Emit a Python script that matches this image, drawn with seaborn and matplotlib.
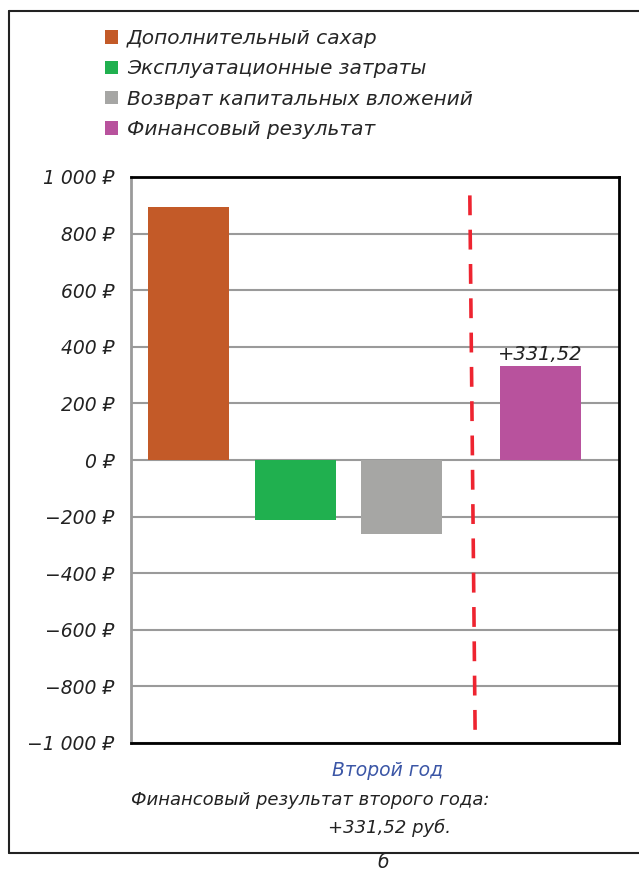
import matplotlib
matplotlib.use("Agg")
import matplotlib.pyplot as plt
from matplotlib.patches import Patch
from matplotlib.lines import Line2D
from matplotlib.ticker import FixedLocator, FuncFormatter
import seaborn as sns
import pandas as pd

# Second-year breakdown, rubles
categories = ["Дополнительный сахар", "Эксплуатационные затраты",
              "Возврат капитальных вложений", "Финансовый результат"]
values = [893.0, -212.0, -261.0, 331.52]
positions = [0.0, 1.0, 2.0, 3.3]
colors = ["#c35a28", "#20b04f", "#a6a6a4", "#b8529d"]
divider_x = (2.64, 2.69)
yticks = [-1000, -800, -600, -400, -200, 0, 200, 400, 600, 800, 1000]
group_label = "Второй год"
summary_line1 = "Финансовый результат второго года:"
summary_line2 = "+331,52 руб."
panel_letter = "б"

sns.set_theme(style="white")
plt.rcParams["font.family"] = ["DejaVu Sans"]
plt.rcParams["font.style"] = "italic"

df = pd.DataFrame({"pos": positions, "value": values, "category": categories})

fig = plt.figure(figsize=(6.39, 8.73), dpi=100)
ax = fig.add_axes([131 / 639, 1 - 743 / 873, (619 - 131) / 639, (743 - 177) / 873])

ax.yaxis.grid(True, color="#9a9a9a", linewidth=1.5)
ax.set_axisbelow(True)

sns.barplot(data=df, x="pos", y="value", hue="category", hue_order=categories,
            palette=colors, native_scale=True, dodge=False, width=0.76,
            errorbar=None, legend=False, saturation=1, linewidth=0, ax=ax)

ax.set_ylim(-1000, 1000)
ax.set_xlim(-0.54, 4.04)
ax.yaxis.set_major_locator(FixedLocator(yticks))


def rub(v, _):
    s = f"{abs(int(round(v))):,}".replace(",", " ")
    return ("−" if v < 0 else "") + s + " ₽"


ax.yaxis.set_major_formatter(FuncFormatter(rub))
ax.tick_params(axis="y", length=0, pad=12, labelsize=13.5, labelcolor="#222222")
ax.set_xticks([])
ax.set_xlabel("")
ax.set_ylabel("")
for lab in ax.get_yticklabels():
    lab.set_fontstyle("italic")

for side in ["top", "right", "bottom"]:
    ax.spines[side].set_color("black")
    ax.spines[side].set_linewidth(2)
ax.spines["left"].set_color("#9a9a9a")
ax.spines["left"].set_linewidth(2)

# Separator between components and result
ax.plot(divider_x, [935, -975], color="#ee2430", linewidth=2.6,
        linestyle=(0, (5.5, 4)), clip_on=False, zorder=5)

# Value label over the result bar
ax.text(positions[3], values[3] + 6, "+331,52", ha="center", va="bottom",
        fontsize=14, style="italic", color="#222222")

# Legend
handles = [Patch(facecolor=c, edgecolor="none") for c in colors]
fig.legend(handles, categories, loc="upper left",
           bbox_to_anchor=(97 / 639, 1 - 21 / 873), frameon=False,
           handlelength=0.65, handleheight=0.65,
           handletextpad=0.45, labelspacing=0.56, borderaxespad=0,
           prop={"style": "italic", "size": 14.5})

# Captions under the chart
fig.text(388 / 639, 1 - 770 / 873, group_label, ha="center", va="center",
         fontsize=13.5, style="italic", color="#3b56a6")
fig.text(131 / 639, 1 - 800 / 873, summary_line1, ha="left", va="center",
         fontsize=13, style="italic", color="#222222")
fig.text(328 / 639, 1 - 828 / 873, summary_line2, ha="left", va="center",
         fontsize=13, style="italic", color="#222222")
fig.text(383 / 639, 1 - 862 / 873, panel_letter, ha="center", va="center",
         fontsize=13.5, style="italic", color="#222222")

# Panel frame
frame_kw = dict(color="#222222", linewidth=1.5, transform=fig.transFigure)
fig.add_artist(Line2D([9 / 639, 1.0], [1 - 11 / 873, 1 - 11 / 873], **frame_kw))
fig.add_artist(Line2D([9 / 639, 9 / 639], [1 - 11 / 873, 1 - 853 / 873], **frame_kw))
fig.add_artist(Line2D([9 / 639, 1.0], [1 - 853 / 873, 1 - 853 / 873], **frame_kw))

fig.savefig("out.png", dpi=100)
